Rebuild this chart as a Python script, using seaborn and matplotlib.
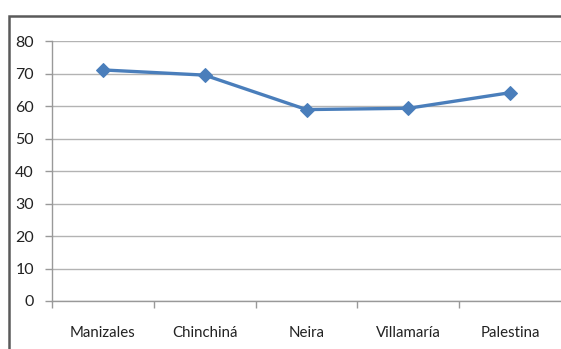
import matplotlib
matplotlib.use("Agg")
import matplotlib.pyplot as plt
import seaborn as sns
import pandas as pd
from matplotlib.patches import Rectangle

# Municipios y valores
municipios = ["Manizales", "Chinchiná", "Neira", "Villamaría", "Palestina"]
valores = [71.1, 69.5, 58.9, 59.3, 64.1]

df = pd.DataFrame({"Municipio": municipios, "Valor": valores})

sns.set_style("white")
plt.rcParams['font.family'] = ['Lato', 'DejaVu Sans']

fig = plt.figure(figsize=(5.61, 3.49), dpi=100)
ax = fig.add_axes([52 / 561, 1 - 301 / 349, 1 - 52 / 561, (301 - 41) / 349])

ax.set_xlim(-0.5, len(municipios) - 0.5)
ax.set_ylim(0, 80)
ax.set_yticks(range(0, 81, 10))
ax.yaxis.grid(True, color="#b3b3b3", linewidth=1.0)
ax.set_axisbelow(True)

x = list(range(len(municipios)))
sns.lineplot(x=x, y=df["Valor"], ax=ax, color="#4a7ebb", linewidth=2.4,
             marker="D", markersize=7, markeredgecolor="#4a7ebb")

ax.set_xticks(x)
ax.set_xticklabels(municipios)
ax.set_xticks([i + 0.5 for i in range(-1, len(municipios) - 1)], minor=True)
ax.tick_params(axis="x", which="major", length=0, pad=18, labelsize=10.8, colors="#222222")
ax.tick_params(axis="x", which="minor", length=5, width=1, color="#999999", direction="out")
ax.tick_params(axis="y", length=5, width=1, color="#999999", direction="out",
               labelsize=11.5, pad=8, labelcolor="#222222")
ax.tick_params(left=True, bottom=True, which="both")
ax.set_xlabel("")
ax.set_ylabel("")

for side in ["top", "right"]:
    ax.spines[side].set_visible(False)
for side in ["left", "bottom"]:
    ax.spines[side].set_color("#999999")
    ax.spines[side].set_linewidth(1.0)

# marco exterior del grafico
fig.patches.append(Rectangle((8.5 / 561, -0.05), 1.1, 1 - 15.5 / 349 + 0.05,
                             transform=fig.transFigure, fill=False,
                             edgecolor="#5a5a5a", linewidth=1.8, clip_on=False))

fig.savefig("out.png", dpi=100)
